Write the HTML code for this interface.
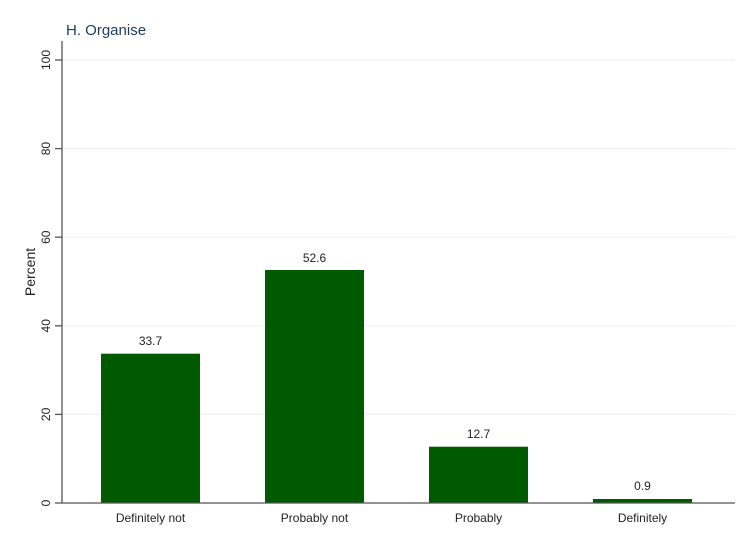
<!DOCTYPE html>
<html><head><meta charset="utf-8"><style>body{margin:0;background:#fff}svg{display:block}</style></head><body>
<svg width="750" height="545" xmlns="http://www.w3.org/2000/svg" font-family="Liberation Sans, Arial, sans-serif">
<rect width="750" height="545" fill="#fff"/>
<text x="66" y="35" font-size="15" fill="#1e3a5f">H. Organise</text>
<g stroke="#eef2f5" stroke-width="1.2">
<line x1="62" x2="735" y1="60" y2="60"/><line x1="62" x2="735" y1="148.6" y2="148.6"/>
<line x1="62" x2="735" y1="237.2" y2="237.2"/><line x1="62" x2="735" y1="325.8" y2="325.8"/>
<line x1="62" x2="735" y1="414.4" y2="414.4"/>
</g>
<g fill="#005a00">
<rect x="101" y="353.7" width="99" height="149.3"/>
<rect x="265" y="270" width="99" height="233"/>
<rect x="429" y="446.7" width="99" height="56.3"/>
<rect x="593" y="499" width="99" height="4"/>
</g>
<g stroke="#555" stroke-width="1.3">
<line x1="62" x2="62" y1="41" y2="503.5"/>
<line x1="62" x2="735" y1="503" y2="503"/>
<line x1="55" x2="62" y1="60" y2="60"/><line x1="55" x2="62" y1="148.6" y2="148.6"/>
<line x1="55" x2="62" y1="237.2" y2="237.2"/><line x1="55" x2="62" y1="325.8" y2="325.8"/>
<line x1="55" x2="62" y1="414.4" y2="414.4"/><line x1="55" x2="62" y1="503" y2="503"/>
</g>
<g font-size="12" fill="#222" text-anchor="middle">
<text transform="translate(50,60) rotate(-90)">100</text>
<text transform="translate(50,148.6) rotate(-90)">80</text>
<text transform="translate(50,237.2) rotate(-90)">60</text>
<text transform="translate(50,325.8) rotate(-90)">40</text>
<text transform="translate(50,414.4) rotate(-90)">20</text>
<text transform="translate(50,503) rotate(-90)">0</text>
<text transform="translate(35,272) rotate(-90)" font-size="14">Percent</text>
<text x="150.5" y="522">Definitely not</text>
<text x="314.5" y="522">Probably not</text>
<text x="478.5" y="522">Probably</text>
<text x="642.5" y="522">Definitely</text>
<text x="150.5" y="345">33.7</text>
<text x="314.5" y="262">52.6</text>
<text x="478.5" y="438">12.7</text>
<text x="642.5" y="490">0.9</text>
</g>
</svg>
</body></html>
